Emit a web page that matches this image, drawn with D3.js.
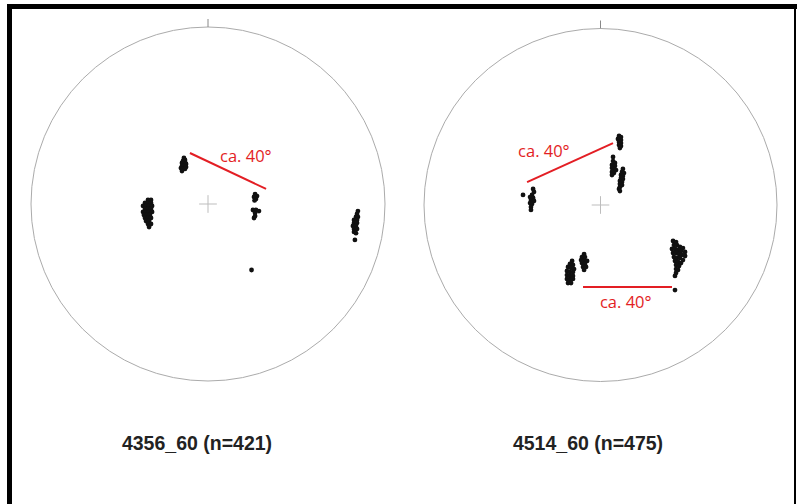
<!DOCTYPE html>
<html>
<head>
<meta charset="utf-8">
<script src="https://cdn.jsdelivr.net/npm/d3@7"></script>
<style>
  html, body { margin: 0; padding: 0; background: #fff; }
  svg { display: block; }
</style>
</head>
<body>
<svg id="chart" width="797" height="504"></svg>
<script>
// Pole positions on the equal-area net, in percent of the net radius
// (x = east, y = north).
const titles = ["4356_60 (n=421)", "4514_60 (n=475)"];

const polesLeft = [
  // cluster NNW of centre
  [-13.6,26.0],[-13.0,24.9],[-14.1,24.3],[-13.0,23.7],[-14.7,23.2],[-13.6,22.6],[-12.4,22.6],
  [-14.7,21.5],[-13.6,21.5],[-12.4,20.9],[-15.3,20.3],[-14.1,19.8],[-13.0,19.8],[-14.7,18.6],
  // cluster W
  [-33.9,2.3],[-32.2,2.3],[-35.6,0.6],[-33.9,0.6],[-32.2,0.6],
  [-36.7,-1.1],[-35.0,-1.1],[-33.3,-1.1],[-31.6,-1.1],
  [-35.6,-2.8],[-33.9,-2.8],[-32.2,-2.8],
  [-36.7,-4.5],[-35.0,-4.5],[-33.3,-4.5],[-31.6,-4.5],
  [-36.2,-6.2],[-34.5,-6.2],[-32.8,-6.2],
  [-35.6,-7.9],[-33.9,-7.9],[-32.2,-7.9],
  [-35.0,-9.6],[-33.3,-9.6],[-33.9,-11.3],[-32.2,-11.3],[-33.3,-13.0],
  // clusters E of centre
  [26.6,5.6],[27.7,4.5],[26.0,4.0],[27.1,2.8],[26.3,2.0],
  [25.4,-3.4],[27.1,-3.4],[28.8,-4.0],[26.6,-5.1],[26.6,-6.8],[26.0,-7.9],
  // single pole SE
  [24.6,-37.3],
  // cluster near E margin
  [84.7,-4.0],[84.2,-5.6],[83.6,-7.3],[84.7,-7.3],[82.5,-9.0],[84.2,-9.0],[82.5,-10.7],[84.2,-10.7],
  [81.9,-12.4],[83.6,-12.4],[82.5,-14.1],[84.2,-14.1],[82.5,-15.8],[83.6,-16.5],
  [83.0,-20.3]
];

const polesRight = [
  // cluster N
  [10.5,39.1],[11.6,38.5],[9.9,37.4],[11.6,36.8],[10.5,35.7],[11.6,35.1],[10.5,34.0],[11.6,33.4],[11.0,32.3],
  // cluster N, second
  [7.1,27.2],[7.1,24.9],[8.2,23.8],[6.5,22.7],[8.2,22.1],[6.5,21.0],[7.6,20.4],[8.8,19.8],
  [6.5,18.7],[7.6,18.1],[6.5,17.0],
  // cluster N, third
  [12.7,20.4],[12.2,18.7],[13.3,18.1],[11.6,17.0],[12.7,16.4],[11.6,15.3],[12.7,14.7],
  [11.0,13.6],[12.2,13.0],[11.0,11.9],[12.2,11.3],[11.0,10.2],[10.5,9.1],[11.0,7.9],
  // cluster W
  [-38.2,9.1],[-37.7,7.4],[-38.8,5.7],[-39.9,4.5],[-38.2,4.0],[-39.4,2.8],[-37.7,2.3],
  [-39.9,1.1],[-38.8,0.6],[-39.4,-1.1],[-39.4,-2.8],
  [-43.9,5.7],
  // cluster SSW
  [-16.1,-31.7],[-17.3,-33.4],[-15.6,-34.0],[-18.4,-35.1],[-16.7,-35.7],[-15.0,-36.3],
  [-19.0,-37.4],[-17.3,-38.0],[-15.6,-38.0],[-19.0,-39.7],[-17.3,-40.2],[-15.6,-40.2],
  [-19.0,-41.9],[-17.3,-42.5],[-15.6,-41.9],[-18.4,-44.2],[-16.7,-44.2],
  // cluster S
  [-9.3,-27.8],[-10.5,-29.5],[-8.8,-29.5],[-11.0,-31.2],[-9.3,-31.2],[-7.6,-31.7],
  [-10.5,-32.9],[-8.8,-33.4],[-9.9,-35.1],[-8.2,-35.1],[-9.3,-36.8],
  // cluster SE
  [41.1,-20.4],[42.8,-21.0],[41.6,-22.7],[43.3,-22.7],[45.0,-23.8],[46.7,-24.4],
  [40.5,-24.9],[42.2,-24.9],[43.9,-25.5],[45.6,-26.1],[47.9,-26.6],
  [41.1,-27.2],[42.8,-27.2],[44.5,-27.8],[46.2,-28.3],[47.9,-28.9],
  [41.6,-29.5],[43.3,-30.0],[45.0,-30.0],[46.7,-31.2],
  [42.2,-31.7],[43.9,-32.3],[45.6,-32.9],[42.8,-34.0],[44.5,-34.6],
  [42.8,-36.3],[43.9,-36.8],[42.8,-38.5],[42.2,-40.2],
  [42.2,-48.2]
];

// Angular separation annotations: line end points and label anchor (same units)
const notesLeft = [
  { from: [-10.2, 28.8], to: [32.8, 8.5], at: [6.8, 23.7], text: "ca. 40°" }
];
const notesRight = [
  { from: [-41.6, 13.0], to: [7.1, 35.1], at: [-46.7, 27.2], text: "ca. 40°" },
  { from: [-9.9, -46.5], to: [40.5, -46.5], at: [-0.3, -58.4], text: "ca. 40°" }
];

const panels = [
  { cx: 208, cy: 204, r: 177, poles: polesLeft, notes: notesLeft, title: titles[0], titleX: 197 },
  { cx: 600.5, cy: 205, r: 176.5, poles: polesRight, notes: notesRight, title: titles[1], titleX: 588 }
];

const svg = d3.select("#chart");

// frame
svg.append("rect").attr("x", 7).attr("y", 4).attr("width", 790).attr("height", 5).attr("fill", "#000");
svg.append("rect").attr("x", 7).attr("y", 4).attr("width", 5).attr("height", 500).attr("fill", "#000");
svg.append("rect").attr("x", 794).attr("y", 4).attr("width", 2).attr("height", 500).attr("fill", "#000");

panels.forEach(p => {
  const x = d3.scaleLinear().domain([-100, 100]).range([p.cx - p.r, p.cx + p.r]);
  const y = d3.scaleLinear().domain([-100, 100]).range([p.cy + p.r, p.cy - p.r]);
  const g = svg.append("g");

  // primitive circle
  g.append("circle")
    .attr("cx", x(0)).attr("cy", y(0)).attr("r", x(100) - x(0))
    .attr("fill", "none").attr("stroke", "#ababab").attr("stroke-width", 1);

  // north tick
  g.append("line")
    .attr("x1", x(0)).attr("x2", x(0))
    .attr("y1", y(100) - 8).attr("y2", y(100))
    .attr("stroke", "#888").attr("stroke-width", 1);

  // centre cross
  g.append("line")
    .attr("x1", x(-5)).attr("x2", x(5)).attr("y1", y(0)).attr("y2", y(0))
    .attr("stroke", "#bdbdbd").attr("stroke-width", 1);
  g.append("line")
    .attr("x1", x(0)).attr("x2", x(0)).attr("y1", y(5)).attr("y2", y(-5))
    .attr("stroke", "#bdbdbd").attr("stroke-width", 1);

  // poles
  g.selectAll("circle.pole")
    .data(p.poles)
    .join("circle")
    .attr("class", "pole")
    .attr("cx", d => x(d[0]))
    .attr("cy", d => y(d[1]))
    .attr("r", 2.4)
    .attr("fill", "#111");

  // annotations
  p.notes.forEach(n => {
    g.append("line")
      .attr("x1", x(n.from[0])).attr("y1", y(n.from[1]))
      .attr("x2", x(n.to[0])).attr("y2", y(n.to[1]))
      .attr("stroke", "#e31e24").attr("stroke-width", 2);
    g.append("text")
      .attr("x", x(n.at[0])).attr("y", y(n.at[1]))
      .attr("fill", "#e31e24")
      .attr("font-family", "'Open Sans', sans-serif")
      .attr("font-size", 16.5)
      .text(n.text);
  });

  // title
  svg.append("text")
    .attr("x", p.titleX).attr("y", 450)
    .attr("text-anchor", "middle")
    .attr("font-family", "'Liberation Sans', Arial, sans-serif")
    .attr("font-weight", "bold")
    .attr("font-size", 19.5)
    .attr("fill", "#222")
    .text(p.title);
});
</script>
</body>
</html>
